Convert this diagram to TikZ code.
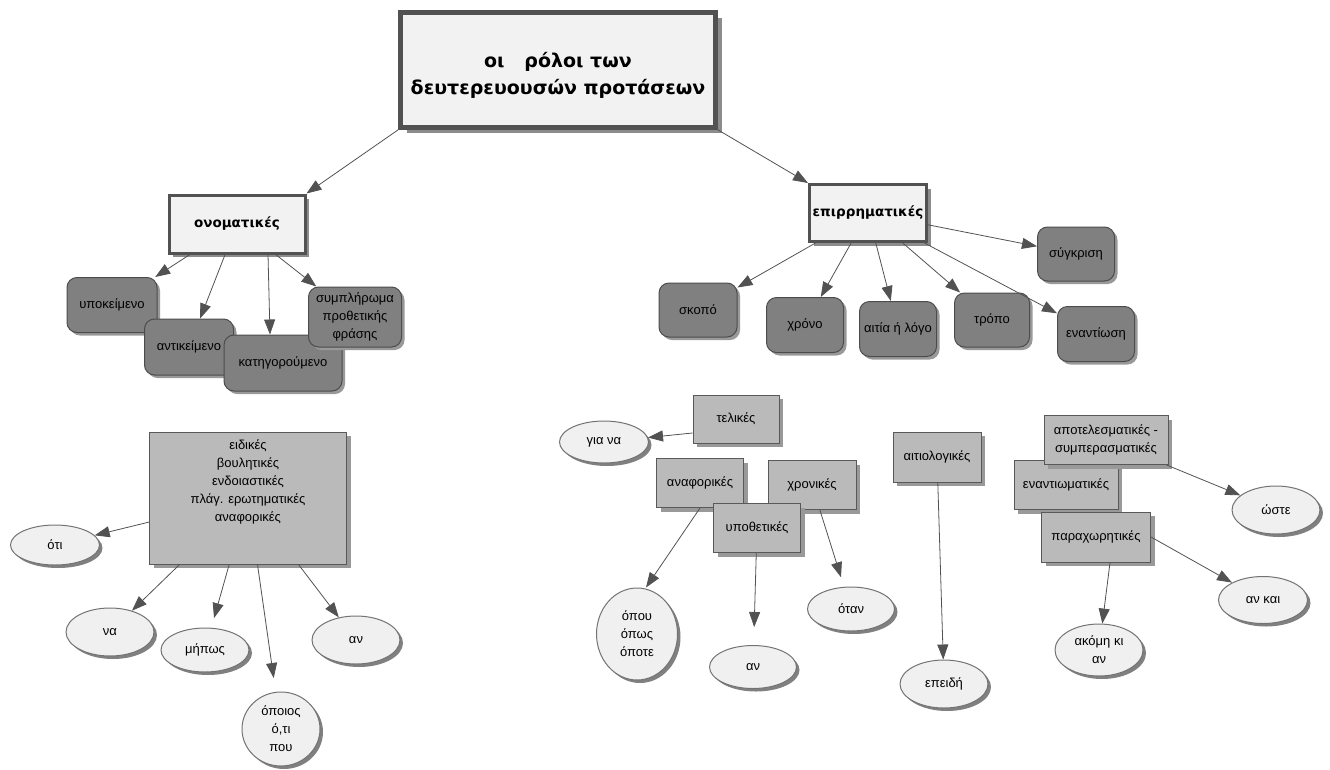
\documentclass[tikz,border=0pt]{standalone}
\usepackage{fontspec}
\setmainfont{Liberation Sans}
\newfontfamily\headfont{DejaVu Sans}
\usepackage{tikz}
\usetikzlibrary{shapes.geometric,shadows,arrows.meta}

\begin{document}
\begin{tikzpicture}[
      x=1pt, y=-1pt,
      every node/.style={inner sep=0pt, align=center, font=\fontsize{13}{18}\selectfont},
      top/.style={
            rectangle, draw=black!68, fill=black!5,
            line width=4.5pt,
            font=\headfont\bfseries\fontsize{19}{27}\selectfont,
            drop shadow={shadow xshift=6pt, shadow yshift=-5pt, fill=black!45, opacity=1}
        },
      head/.style={
            rectangle, draw=black!68, fill=black!5,
            line width=3pt,
            font=\headfont\bfseries\fontsize{13.5}{16}\selectfont,
            drop shadow={shadow xshift=4pt, shadow yshift=-4pt, fill=black!45, opacity=1}
        },
      role/.style={
            rectangle, rounded corners=10pt,
            draw=black!70, fill=black!50, line width=1pt,
            drop shadow={shadow xshift=3pt, shadow yshift=-3pt, fill=black!40, opacity=1}
        },
      kind/.style={
            rectangle, draw=black!65, fill=black!27, line width=1pt,
            drop shadow={shadow xshift=4pt, shadow yshift=-4pt, fill=black!40, opacity=1}
        },
      word/.style={
            ellipse, draw=black!55, fill=black!6, line width=1pt,
            drop shadow={shadow xshift=3pt, shadow yshift=-3pt, fill=black!50, opacity=1}
        },
      conn/.style={
            draw=black!68, line width=0.8pt,
            -{Triangle[length=15pt, width=11pt]}
        }
      ]
    \useasboundingbox (0,0) rectangle (1330,769);

    \node[top, minimum width=315pt, text height=54.5pt, text depth=60.5pt] (R) at (558,70)
        {\begin{tabular}[t]{@{}c@{}}οι\ \ \ ρόλοι των\\δευτερευουσών προτάσεων\end{tabular}};
    \node[head, minimum width=136pt, minimum height=58pt] (On) at (237,224) {ονοματικές};
    \node[head, minimum width=117pt, minimum height=57pt] (Ep) at (868,213) {επιρρηματικές};

    \node[role, minimum width=90pt, minimum height=55pt] (Ypok) at (112,305) {υποκείμενο};
    \node[role, minimum width=89pt, minimum height=56pt] (Antik) at (189,347) {αντικείμενο};
    \node[role, minimum width=118pt, minimum height=56pt] (Kat) at (283,363) {κατηγορούμενο};
    \node[role, minimum width=93pt, minimum height=60pt] (Sympl) at (355,317)
        {συμπλήρωμα\\προθετικής\\φράσης};

    \node[role, minimum width=78pt, minimum height=54pt] (Skopo) at (698,310) {σκοπό};
    \node[role, minimum width=77pt, minimum height=55pt] (Xrono) at (805,325) {χρόνο};
    \node[role, minimum width=77pt, minimum height=55pt] (Aitia) at (898,329) {αιτία ή λόγο};
    \node[role, minimum width=75pt, minimum height=54pt] (Tropo) at (992,320) {τρόπο};
    \node[role, minimum width=77pt, minimum height=55pt] (Enantiosi) at (1096,334) {εναντίωση};
    \node[role, minimum width=77pt, minimum height=54pt] (Sygkr) at (1076,254) {σύγκριση};

    \node[kind, minimum width=197pt, text height=17.5pt, text depth=114.5pt] (Eid) at (248,498)
        {\begin{tabular}[t]{@{}c@{}}ειδικές\\βουλητικές\\ενδοιαστικές\\πλάγ. ερωτηματικές\\αναφορικές\end{tabular}};
    \node[word, minimum width=89pt, minimum height=40pt] (Oti) at (55,545) {ότι};
    \node[word, minimum width=88pt, minimum height=48pt] (Na) at (110,632) {να};
    \node[word, minimum width=88pt, minimum height=44pt] (Mip) at (205,650) {μήπως};
    \node[word, minimum width=88pt, minimum height=48pt] (AnA) at (356,640) {αν};
    \node[word, minimum width=78pt, minimum height=74pt] (Opoi) at (281,729) {όποιος\\ό,τι\\που};

    \node[kind, minimum width=86pt, minimum height=48pt] (Tel) at (736,419) {τελικές};
    \node[word, minimum width=89pt, minimum height=42pt] (Giana) at (604,442) {για να};
    \node[kind, minimum width=87pt, minimum height=49pt] (Anaf) at (700,483) {αναφορικές};
    \node[kind, minimum width=88pt, minimum height=49pt] (Xron) at (812,485) {χρονικές};
    \node[kind, minimum width=87pt, minimum height=49pt] (Ypoth) at (757,528) {υποθετικές};
    \node[word, minimum width=81pt, minimum height=92pt] (Opou) at (637,634) {όπου\\όπως\\όποτε};
    \node[word, minimum width=87pt, minimum height=43pt] (AnB) at (753,667) {αν};
    \node[word, minimum width=87pt, minimum height=44pt] (Otan) at (851,609) {όταν};

    \node[kind, minimum width=88pt, minimum height=50pt] (Aitiol) at (937,457) {αιτιολογικές};
    \node[word, minimum width=88pt, minimum height=48pt] (Epeid) at (944,684) {επειδή};

    \node[kind, minimum width=104pt, minimum height=49pt] (Enant) at (1066,485) {εναντιωματικές};
    \node[kind, minimum width=124pt, minimum height=49pt] (Apot) at (1106,440)
        {αποτελεσματικές -\\συμπερασματικές};
    \node[kind, minimum width=109pt, minimum height=50pt] (Parax) at (1096,537) {παραχωρητικές};
    \node[word, minimum width=88pt, minimum height=48pt] (Oste) at (1276,510) {ώστε};
    \node[word, minimum width=89pt, minimum height=47pt] (Ankai) at (1263,600) {αν και};
    \node[word, minimum width=88pt, minimum height=52pt] (Akomi) at (1099,650) {ακόμη κι\\αν};

    \draw[conn] (R.south west) -- (On.north east);
    \draw[conn] (R.south east) -- (Ep.north west);

    \draw[conn] (On) -- (Ypok);
    \draw[conn] (On) -- (Antik);
    \draw[conn] ([xshift=31pt]On.south) -- ([xshift=-13pt]Kat.north);
    \draw[conn] (On) -- (Sympl);

    \draw[conn] (Ep) -- (Skopo);
    \draw[conn] (Ep) -- (Xrono);
    \draw[conn] (Ep) -- (Aitia);
    \draw[conn] (Ep) -- (Tropo);
    \draw[conn] (Ep) -- (Enantiosi);
    \draw[conn] (Ep) -- (Sygkr);

    \draw[conn] (Eid) -- (Oti);
    \draw[conn] (Eid) -- (Na);
    \draw[conn, shorten >=10pt] (Eid) -- (Mip);
    \draw[conn, shorten >=14pt] (Eid) -- (Opoi);
    \draw[conn] (Eid) -- (AnA);

    \draw[conn] ([yshift=-14pt]Tel.west) -- (Giana);
    \draw[conn] (Anaf.south) -- ([xshift=9pt]Opou.north);
    \draw[conn, shorten >=18pt] (Ypoth) -- (AnB);
    \draw[conn, shorten >=10pt] (Xron) -- (Otan);
    \draw[conn] (Aitiol) -- (Epeid);

    \draw[conn] (Apot) -- (Oste);
    \draw[conn] (Parax.east) -- (Ankai);
    \draw[conn] ([xshift=14pt]Parax.south) -- (Akomi);
  \end{tikzpicture}
\end{document}
